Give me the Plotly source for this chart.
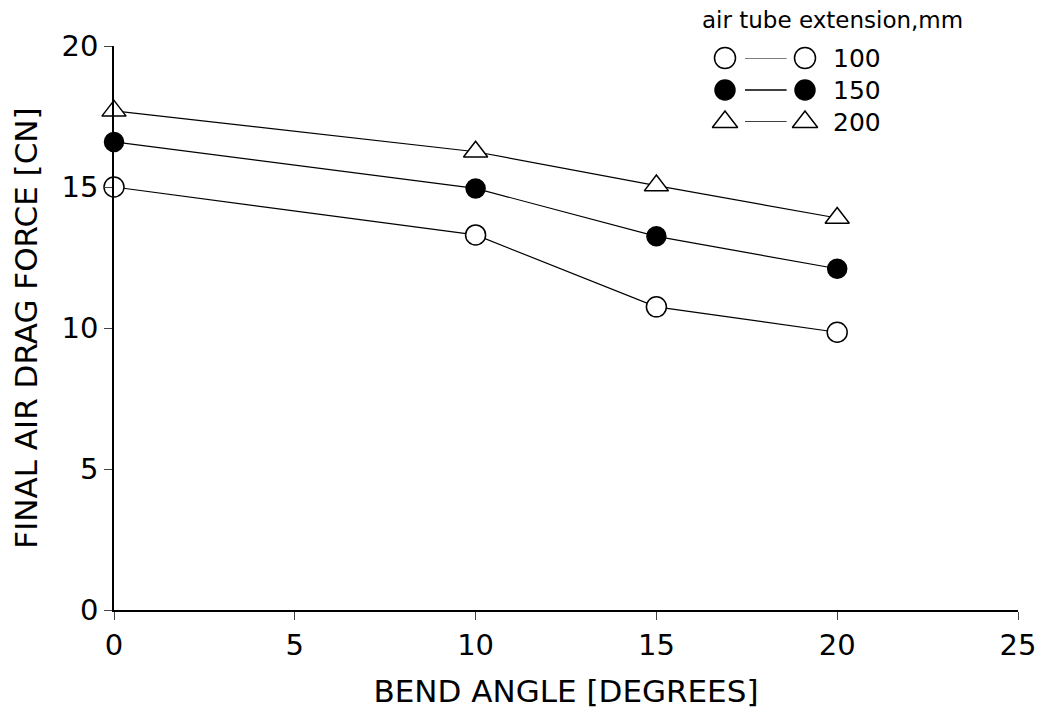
import plotly.graph_objects as go

angles = [0, 10, 15, 20]
ext_100 = [15.0, 13.3, 10.75, 9.85]
ext_150 = [16.6, 14.95, 13.25, 12.1]
ext_200 = [17.7, 16.25, 15.05, 13.9]
series_names = ["100", "150", "200"]
legend_title = "air tube extension,mm"
x_ticks = [0, 5, 10, 15, 20, 25]
y_ticks = [0, 5, 10, 15, 20]

FONT = "DejaVu Sans, sans-serif"
OFF = 8  # page body margin in the browser
PL, PR, PT, PB = 114, 1018, 46, 610  # plot area in page pixels


def fx(px):
    return (px - PL) / (PR - PL)


def fy(py):
    return (PB - py) / (PB - PT)


styles = [
    dict(symbol="circle", fill="white", size=20),
    dict(symbol="circle", fill="black", size=19),
    dict(symbol="triangle-up", fill="white", size=21),
]

fig = go.Figure()
for name, ys, st in zip(series_names, [ext_100, ext_150, ext_200], styles):
    fig.add_trace(go.Scatter(
        x=angles, y=ys, mode="lines+markers", name=name,
        line=dict(color="black", width=1.2),
        marker=dict(symbol=st["symbol"], size=st["size"], color=st["fill"],
                    line=dict(width=1.5, color="black")),
        cliponaxis=False, showlegend=False,
    ))

# custom legend drawn on hidden overlay axes (x2: 80 px per unit)
for row, (name, st) in enumerate(zip(series_names, styles)):
    yv = 2 - row
    fig.add_trace(go.Scatter(
        x=[0.25, 0.77], y=[yv, yv], mode="lines", xaxis="x2", yaxis="y2",
        line=dict(color="black", width=1.4 if row else 1.0),
        showlegend=False, hoverinfo="skip", cliponaxis=False,
    ))
    fig.add_trace(go.Scatter(
        x=[0, 1], y=[yv, yv], mode="markers", xaxis="x2", yaxis="y2",
        marker=dict(symbol=st["symbol"], size=st["size"] + 1, color=st["fill"],
                    line=dict(width=1.5, color="black")),
        showlegend=False, hoverinfo="skip", cliponaxis=False,
    ))
    fig.add_annotation(x=1.33, y=yv, xref="x2", yref="y2", text=name, showarrow=False,
                       xanchor="left", yanchor="middle", font=dict(size=25, family=FONT, color="black"))

fig.add_annotation(x=fx(700), y=fy(20), xref="paper", yref="paper",
                   text=legend_title, showarrow=False,
                   xanchor="left", yanchor="middle", font=dict(size=23, family=FONT, color="black"))

fig.update_layout(
    width=1046, height=716,
    margin=dict(l=PL - OFF, r=1046 + OFF - PR, t=PT - OFF, b=716 + OFF - PB, autoexpand=False),
    paper_bgcolor="white", plot_bgcolor="white",
    font=dict(family=FONT, color="black", size=29),
    xaxis=dict(range=[0, 25], tickvals=x_ticks, ticks="outside", ticklen=8, tickwidth=1,
               showline=True, linecolor="black", linewidth=1.5, showgrid=False, zeroline=False,
               title=dict(text="BEND ANGLE [DEGREES]", font=dict(size=31), standoff=20),
               tickfont=dict(size=29)),
    yaxis=dict(range=[0, 20], tickvals=y_ticks, ticks="outside", ticklen=8, tickwidth=1,
               showline=True, linecolor="black", linewidth=1.5, showgrid=False, zeroline=False,
               title=dict(text="FINAL AIR DRAG FORCE [CN]", font=dict(size=31), standoff=20),
               tickfont=dict(size=29)),
    xaxis2=dict(domain=[fx(725), fx(725 + 80 * 2)], range=[0, 2], visible=False, anchor="y2"),
    yaxis2=dict(domain=[fy(122), fy(58)], range=[0, 2], visible=False, anchor="x2"),
)

fig.write_html("out.html")
